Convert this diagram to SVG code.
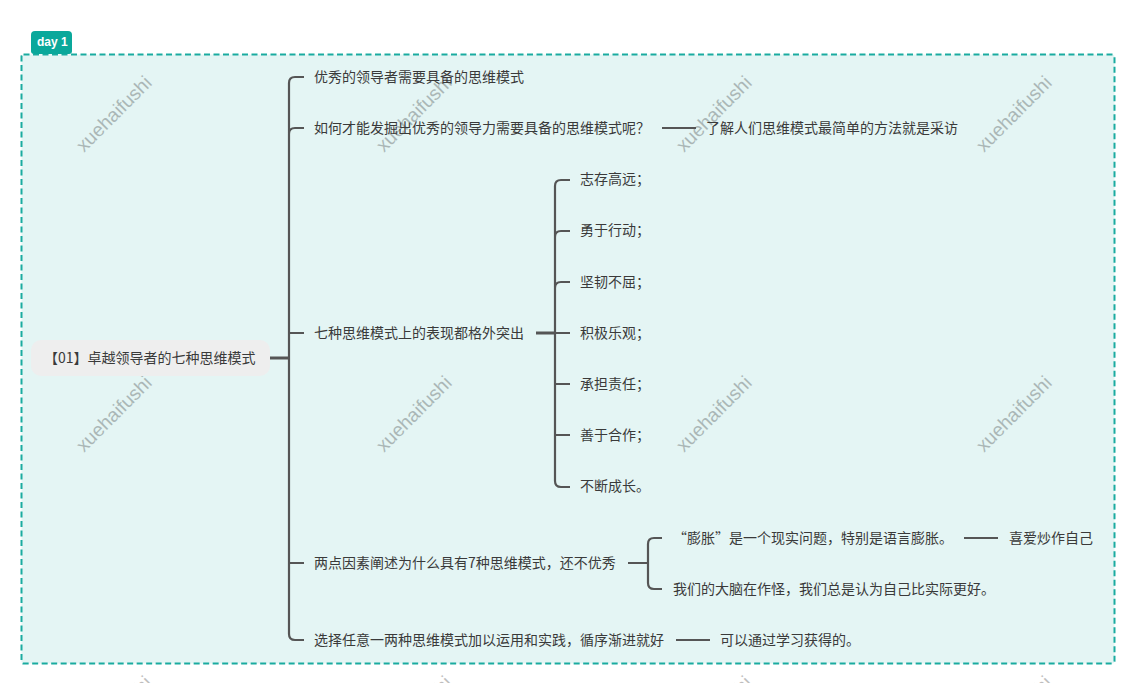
<svg xmlns="http://www.w3.org/2000/svg" width="1134" height="683" viewBox="0 0 1134 683">
<style>
text{font-family:"Noto Sans CJK SC","Liberation Sans",sans-serif;font-size:14px;fill:#3a3a3a}
.w{font-family:"Liberation Sans",Arial,sans-serif;font-size:19.300px;fill:#000;opacity:.25}
.c{fill:none;stroke:#555;stroke-width:2.200}
.h{fill:none;stroke:#555;stroke-width:3}
</style>
<rect width="1134" height="683" fill="#fff"/>
<g id="frame">
<rect x="21.500" y="54.500" width="1093" height="609" rx="2" fill="#e4f5f4" stroke="#1aaba0" stroke-width="2" stroke-dasharray="6 3.500"/>
<path d="M31 51V35a4 4 0 0 1 4-4h33a4 4 0 0 1 4 4v16a3 3 0 0 1-3 3H34a3 3 0 0 1-3-3z" fill="#0aa89b"/>
<text x="37" y="46" style="font-family:'Liberation Sans',sans-serif;font-size:12px;font-weight:700;fill:#fff">day 1</text>
</g>
<g id="watermarks">
<text class="w" transform="translate(84 153) rotate(-45)">xuehaifushi</text>
<text class="w" transform="translate(384 153) rotate(-45)">xuehaifushi</text>
<text class="w" transform="translate(684 153) rotate(-45)">xuehaifushi</text>
<text class="w" transform="translate(984 153) rotate(-45)">xuehaifushi</text>
<text class="w" transform="translate(84 453) rotate(-45)">xuehaifushi</text>
<text class="w" transform="translate(384 453) rotate(-45)">xuehaifushi</text>
<text class="w" transform="translate(684 453) rotate(-45)">xuehaifushi</text>
<text class="w" transform="translate(984 453) rotate(-45)">xuehaifushi</text>
<text class="w" transform="translate(84 753) rotate(-45)">xuehaifushi</text>
<text class="w" transform="translate(384 753) rotate(-45)">xuehaifushi</text>
<text class="w" transform="translate(684 753) rotate(-45)">xuehaifushi</text>
<text class="w" transform="translate(984 753) rotate(-45)">xuehaifushi</text>
</g>
<g id="connectors">
<path class="c" d="M304 77H295q-6 0-6 6V634q0 6 6 6H304M289 134q0-6 6-6H304M289 333H304M289 563H304"/>
<path class="h" d="M270 358H289"/>
<path class="c" d="M570 180H561q-6 0-6 6V481q0 6 6 6H570M555 237q0-6 6-6H570M555 288q0-6 6-6H570M555 333H570M555 384H570M555 435H570"/>
<path class="h" d="M536 333H555"/>
<path class="c" d="M662 128H696"/>
<path class="c" d="M628 563H648M662 538H654q-6 0-6 6V583q0 6 6 6H662"/>
<path class="c" d="M964 538H998M676 640H710"/>
</g>
<g id="root"><rect x="31" y="340" width="239" height="36" rx="10" fill="#eeeeee"/><text x="44" y="363">【01】卓越领导者的七种思维模式</text></g>
<g id="n1"><text x="314" y="82">优秀的领导者需要具备的思维模式</text></g>
<g id="n2"><text x="314" y="133">如何才能发掘出优秀的领导力需要具备的思维模式呢？</text></g>
<g id="n2a"><text x="706" y="133">了解人们思维模式最简单的方法就是采访</text></g>
<g id="n3"><text x="314" y="338">七种思维模式上的表现都格外突出</text></g>
<g id="n3a"><text x="580" y="184">志存高远；</text></g>
<g id="n3b"><text x="580" y="235">勇于行动；</text></g>
<g id="n3c"><text x="580" y="287">坚韧不屈；</text></g>
<g id="n3d"><text x="580" y="338">积极乐观；</text></g>
<g id="n3e"><text x="580" y="389">承担责任；</text></g>
<g id="n3f"><text x="580" y="440">善于合作；</text></g>
<g id="n3g"><text x="580" y="491">不断成长。</text></g>
<g id="n4"><text x="314" y="568">两点因素阐述为什么具有7种思维模式，还不优秀</text></g>
<g id="n4a"><text x="673" y="543">“膨胀”是一个现实问题，特别是语言膨胀。</text></g>
<g id="n4a1"><text x="1009" y="543">喜爱炒作自己</text></g>
<g id="n4b"><text x="673" y="594">我们的大脑在作怪，我们总是认为自己比实际更好。</text></g>
<g id="n5"><text x="314" y="645">选择任意一两种思维模式加以运用和实践，循序渐进就好</text></g>
<g id="n5a"><text x="720" y="645">可以通过学习获得的。</text></g>
</svg>
